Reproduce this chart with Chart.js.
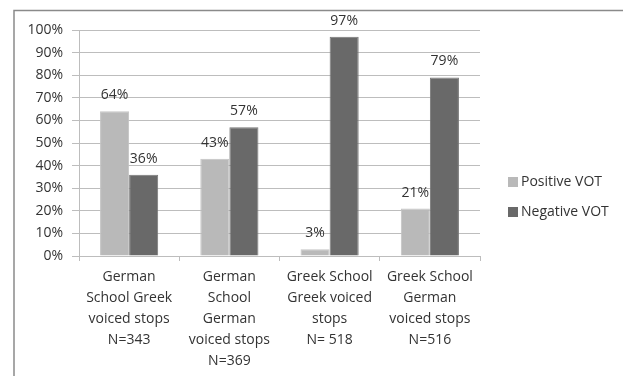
<!DOCTYPE html>
<html>
<head>
<meta charset="utf-8">
<script src="https://cdn.jsdelivr.net/npm/chart.js@4"></script>
<style>
  html, body { margin: 0; padding: 0; background: #fff; }
  #wrap { width: 623px; height: 376px; position: relative; }
</style>
</head>
<body>
<div id="wrap"><canvas id="chart" width="623" height="376"></canvas></div>
<script>
// values
const categories = [
  ['German', 'School Greek', 'voiced stops', 'N=343'],
  ['German', 'School', 'German', 'voiced stops', 'N=369'],
  ['Greek School', 'Greek voiced', 'stops', 'N= 518'],
  ['Greek School', 'German', 'voiced stops', 'N=516']
];
const positiveVOT = [64, 43, 3, 21];
const negativeVOT = [36, 57, 97, 79];
const seriesNames = ['Positive VOT', 'Negative VOT'];
const yTicks = [0, 10, 20, 30, 40, 50, 60, 70, 80, 90, 100];

const FONT = '"Open Sans"';
const TEXT = '#333';
const GRID = '#bdbdbd';

// frame round the whole chart
const framePlugin = {
  id: 'frame',
  beforeDraw(chart) {
    const ctx = chart.ctx;
    ctx.save();
    ctx.strokeStyle = '#8a8a8a';
    ctx.lineWidth = 1.5;
    ctx.strokeRect(14, 10.5, 700, 500);
    ctx.restore();
  }
};

// value labels above each bar
const valueLabels = {
  id: 'valueLabels',
  afterDatasetsDraw(chart) {
    const ctx = chart.ctx;
    ctx.save();
    ctx.font = '14px ' + FONT;
    ctx.fillStyle = TEXT;
    ctx.textAlign = 'center';
    ctx.textBaseline = 'middle';
    chart.data.datasets.forEach((ds, i) => {
      chart.getDatasetMeta(i).data.forEach((bar, j) => {
        ctx.fillText(ds.data[j] + '%', bar.x, bar.y - 16);
      });
    });
    ctx.restore();
  }
};

// legend on the right, below the middle
const sideLegend = {
  id: 'sideLegend',
  afterDraw(chart) {
    const ctx = chart.ctx;
    ctx.save();
    ctx.font = '14px ' + FONT;
    ctx.textBaseline = 'middle';
    chart.data.datasets.forEach((ds, i) => {
      const y = 182 + i * 30;
      ctx.fillStyle = ds.backgroundColor;
      ctx.fillRect(508, y - 5, 10, 10);
      ctx.fillStyle = TEXT;
      ctx.fillText(ds.label, 521, y);
    });
    ctx.restore();
  }
};

new Chart(document.getElementById('chart'), {
  type: 'bar',
  data: {
    labels: categories,
    datasets: [
      { label: seriesNames[0], data: positiveVOT, backgroundColor: '#b9b9b9', borderColor: '#c4c4c4', borderWidth: 1 },
      { label: seriesNames[1], data: negativeVOT, backgroundColor: '#696969', borderColor: '#787878', borderWidth: 1 }
    ]
  },
  options: {
    responsive: false,
    animation: false,
    layout: { padding: { left: 20, top: 30, right: 143, bottom: 0 } },
    plugins: { legend: { display: false }, tooltip: { enabled: false } },
    datasets: { bar: { categoryPercentage: 0.58, barPercentage: 1 } },
    scales: {
      x: {
        grid: { display: true, drawOnChartArea: false, offset: true, color: GRID, tickLength: 5 },
        border: { color: GRID },
        ticks: { color: TEXT, font: { family: FONT, size: 14, lineHeight: 1.5 }, padding: 6, maxRotation: 0, autoSkip: false },
        afterFit(s) { s.height = 120; }
      },
      y: {
        min: 0, max: 100,
        afterBuildTicks(s) { s.ticks = yTicks.map(v => ({ value: v })); },
        grid: { color: GRID, tickLength: 7 },
        border: { color: GRID },
        ticks: { color: TEXT, font: { family: FONT, size: 14 }, padding: 9, callback: v => v + '%' },
        afterFit(s) { s.width = 59; }
      }
    }
  },
  plugins: [framePlugin, valueLabels, sideLegend]
});
</script>
</body>
</html>
